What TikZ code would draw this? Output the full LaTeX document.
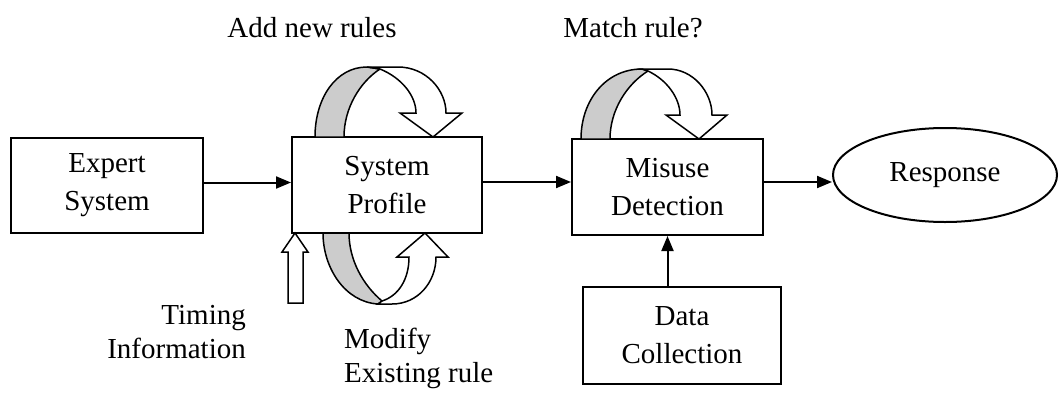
\documentclass[tikz,border=0pt]{standalone}
\usepackage{fontspec}
\setmainfont{Liberation Serif}
\usetikzlibrary{arrows.meta,shapes.geometric}
\begin{document}
\begin{tikzpicture}[x=1pt,y=-1pt,
  box/.style={draw,line width=2pt,align=center,inner sep=0pt,
    font=\fontsize{29}{38}\selectfont},
  lbl/.style={inner sep=0pt,font=\fontsize{29}{34}\selectfont},
  conn/.style={line width=2pt,-{Triangle[length=15pt,width=12pt]}},
  band/.style={draw,line width=1.5pt,line join=round,fill=black!20},
  hollow/.style={draw,line width=1.5pt,line join=miter,fill=white}]
\useasboundingbox (0,0) rectangle (1059,397);

% blocks
\node[box,minimum width=192pt,minimum height=95pt] (expert) at (107,185.5) {Expert\\System};
\node[box,minimum width=190pt,minimum height=96pt] (profile) at (387,185) {System\\Profile};
\node[box,minimum width=191pt,minimum height=96pt] (misuse) at (667.5,187) {Misuse\\Detection};
\node[box,minimum width=198pt,minimum height=97pt] (data) at (682,335.5) {Data\\Collection};
\node[box,ellipse,minimum width=224pt,minimum height=94pt] (response) at (945,175) {Response};

% connectors
\draw[conn] ([yshift=3pt]expert.east) -- ([yshift=3pt]expert.east -| profile.west);
\draw[conn] ([yshift=3pt]profile.east) -- ([yshift=3pt]profile.east -| misuse.west);
\draw[conn] ([yshift=5pt]misuse.east) -- ([yshift=5pt]misuse.east -| response.west);
\draw[conn] (data.north -| misuse.south) -- (misuse.south);

% labels
\node[lbl] (addrules) at (312,28) {Add new rules};
\node[lbl] (matchrule) at (633,28) {Match rule?};
\node[lbl,align=right,anchor=east] (timing) at (246,332) {Timing\\Information};
\node[lbl,align=left,anchor=west] (modify) at (344,358) {Modify\\Existing rule};

% ribbon arrow above the profile block
\path[band] (315,137) .. controls (315,98) and (336,67) .. (367,67) -- (380,69)
  .. controls (360,82) and (344,108) .. (344,137) -- cycle;
\path[hollow] (367,67) -- (398,67) .. controls (426,67) and (446,90) .. (446,113)
  -- (462,113) -- (433,137) -- (400,113) -- (416,113)
  .. controls (416,96) and (402,78) .. (380,69) -- cycle;

% ribbon arrow above the misuse block
\path[band] (581,139) .. controls (581,100) and (606,69) .. (642,69) -- (648,71)
  .. controls (627,84) and (610,110) .. (610,139) -- cycle;
\path[hollow] (642,69) -- (668,69) .. controls (693,69) and (712,92) .. (712,115)
  -- (727,115) -- (699,139) -- (666,115) -- (680,115)
  .. controls (680,98) and (667,80) .. (648,71) -- cycle;

% ribbon arrow below the profile block
\path[band] (323,233) .. controls (323,268) and (345,302) .. (378,304) -- (382,301)
  .. controls (363,285) and (349,260) .. (349,233) -- cycle;
\path[hollow] (378,304) -- (392,304) .. controls (418,304) and (436,282) .. (436,257)
  -- (448,257) -- (425,233) -- (397,257) -- (409,257)
  .. controls (409,280) and (398,296) .. (382,301) -- cycle;

% hollow timing arrow
\path[hollow] (288,303) -- (288,252) -- (282,252) -- (295,233) -- (308,252)
  -- (303,252) -- (303,303) -- cycle;
\end{tikzpicture}
\end{document}
